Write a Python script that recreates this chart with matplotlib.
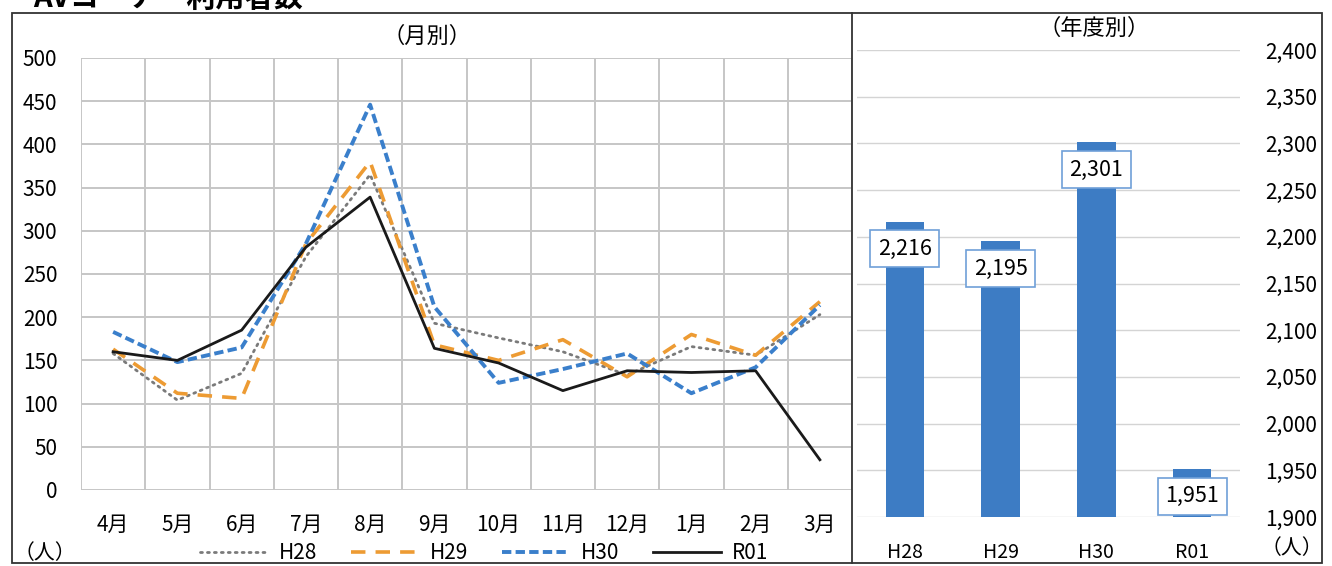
import matplotlib
matplotlib.use("Agg")
import matplotlib.pyplot as plt
from matplotlib.lines import Line2D
from matplotlib.patches import Rectangle
from matplotlib.ticker import FuncFormatter, FixedLocator

plt.rcParams['font.family'] = ['Noto Sans CJK JP', 'DejaVu Sans']

# ---- data ----
months = ['4月', '5月', '6月', '7月', '8月', '9月', '10月', '11月', '12月', '1月', '2月', '3月']
h28 = [158, 104, 135, 270, 365, 193, 176, 160, 133, 166, 156, 203]
h29 = [163, 112, 106, 285, 380, 168, 150, 174, 131, 180, 156, 218]
h30 = [183, 148, 165, 285, 446, 212, 124, 140, 158, 112, 142, 214]
r01 = [160, 150, 185, 281, 339, 164, 147, 115, 138, 136, 138, 35]
series_names = ['H28', 'H29', 'H30', 'R01']

years = ['H28', 'H29', 'H30', 'R01']
totals = [2216, 2195, 2301, 1951]

W, H = 1332, 566
fig = plt.figure(figsize=(W / 100, H / 100), dpi=100)

def fx(px):
    return px / W

def fy(py):
    return 1 - py / H

FS = 15
grid_c = '#c6c6c6'

gray_style = dict(color='#7a7a7a', lw=2.0, linestyle=(0, (0.7, 1.8)), dash_capstyle='round')
orange_style = dict(color='#ED9B33', lw=2.6, linestyle=(0, (4, 2.8)))
blue_style = dict(color='#3A7FCB', lw=2.8, linestyle=(0, (2.4, 1.1)))
black_style = dict(color='#1a1a1a', lw=2.0, linestyle='-')

# ---- left: monthly line chart ----
axL = fig.add_axes([fx(81), fy(490), fx(852) - fx(81), fy(58) - fy(490)])
x = list(range(len(months)))
axL.plot(x, h28, label='H28', zorder=3, **gray_style)
axL.plot(x, h29, label='H29', zorder=3, **orange_style)
axL.plot(x, h30, label='H30', zorder=4, **blue_style)
axL.plot(x, r01, label='R01', zorder=5, **black_style)
axL.set_xlim(-0.5, len(months) - 0.5)
axL.set_ylim(0, 500)
axL.set_yticks(range(0, 501, 50))
axL.set_xticks(x)
axL.set_xticklabels(months, fontsize=FS)
axL.xaxis.set_minor_locator(FixedLocator([i - 0.5 for i in range(len(months) + 1)]))
axL.grid(True, which='minor', axis='x', color=grid_c, lw=1.4)
axL.grid(True, which='major', axis='y', color=grid_c, lw=1.4)
axL.set_axisbelow(True)
for s in axL.spines.values():
    s.set_visible(False)
axL.tick_params(axis='both', which='both', length=0)
axL.tick_params(axis='y', labelsize=FS, pad=17)
axL.tick_params(axis='x', labelsize=FS, pad=17)

handles = [
    Line2D([], [], **gray_style),
    Line2D([], [], **orange_style),
    Line2D([], [], **blue_style),
    Line2D([], [], **black_style),
]
fig.legend(handles, series_names, loc='center', bbox_to_anchor=(fx(484), fy(553)),
           ncol=4, frameon=False, fontsize=FS, handlelength=3.3, handletextpad=0.5,
           columnspacing=1.6, borderpad=0)

fig.text(fx(427), fy(36), '（月別）', ha='center', va='center', fontsize=16)
fig.text(fx(45), fy(553), '（人）', ha='center', va='center', fontsize=FS)

# ---- right: yearly bar chart ----
axR = fig.add_axes([fx(857), fy(517), fx(1240) - fx(857), fy(50) - fy(517)])
xr = list(range(len(years)))
axR.bar(xr, [t - 1900 for t in totals], bottom=1900, width=0.4, color='#3D7CC4', zorder=3)
axR.set_xlim(-0.5, len(years) - 0.5)
axR.set_ylim(1900, 2400)
axR.set_yticks(range(1900, 2401, 50))
axR.yaxis.set_major_formatter(FuncFormatter(lambda v, p: f'{int(v):,}'))
axR.yaxis.tick_right()
axR.set_xticks(xr)
axR.set_xticklabels(years, fontsize=FS - 1)
axR.grid(True, axis='y', color='#d4d4d4', lw=1.0)
axR.set_axisbelow(True)
for s in axR.spines.values():
    s.set_visible(False)
axR.tick_params(axis='both', length=0)
axR.tick_params(axis='y', labelsize=FS, pad=18)
axR.tick_params(axis='x', labelsize=FS - 1, pad=18)
for i, t in enumerate(totals):
    axR.annotate(f'{t:,}', xy=(i, t), xytext=(0, -19.5), textcoords='offset points',
                 ha='center', va='center', fontsize=FS + 0.5, zorder=5,
                 bbox=dict(boxstyle='square,pad=0.35', fc='white', ec='#6FA0D8', lw=1.2))

fig.text(fx(1094), fy(28), '（年度別）', ha='center', va='center', fontsize=16)
fig.text(fx(1292), fy(548), '（人）', ha='center', va='center', fontsize=FS)

# ---- frames ----
fig.add_artist(Rectangle((fx(12), fy(563)), fx(1322) - fx(12), fy(13) - fy(563),
                         transform=fig.transFigure, fill=False, ec='#333333', lw=1.3))
fig.add_artist(Line2D([fx(852), fx(852)], [fy(563), fy(13)], transform=fig.transFigure,
                      color='#333333', lw=1.3))

# ---- title (partially cut at top, as in the reference) ----
fig.text(fx(33), fy(7), 'AVコーナー利用者数', ha='left', va='baseline',
         fontsize=21, fontweight='bold')

fig.savefig('out.png', dpi=100)
